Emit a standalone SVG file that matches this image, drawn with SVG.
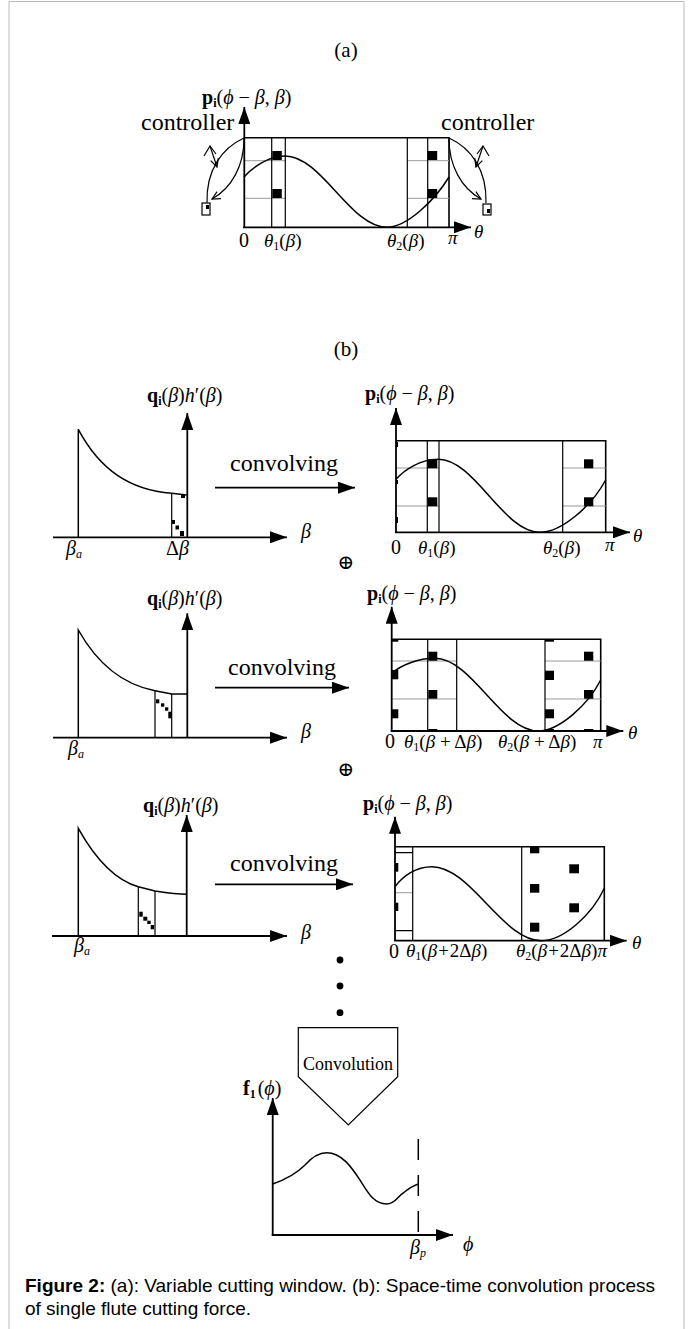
<svg xmlns="http://www.w3.org/2000/svg" width="693" height="1329" viewBox="0 0 693 1329">
<style>
.ln{stroke:#000;stroke-width:1.6;fill:none}
.thin{stroke:#000;stroke-width:1.2;fill:none}
.grid{stroke:#999;stroke-width:1;fill:none}
.cv{stroke:#000;stroke-width:1.5;fill:none}
.ax{stroke:#000;stroke-width:1.8;fill:none;marker-end:url(#ah)}
.sq{fill:#000}
.t{font-family:"Liberation Serif","DejaVu Serif",serif;font-size:20px;fill:#000}
.th{font-size:19px}
.big{font-size:24px}
.hd{font-size:21px}
.conv{font-size:18px}
.it{font-style:italic}
.b{font-weight:bold}
.sb{font-size:12px}
.cap{font-family:"Liberation Sans",Arial,sans-serif;font-size:19px;fill:#000}
</style>
<defs>
<marker id="ah" viewBox="0 0 17 12" refX="17" refY="6" markerWidth="17" markerHeight="12" orient="auto" markerUnits="userSpaceOnUse"><path d="M0,0L17,6L0,12z" fill="#000"/></marker>
<marker id="oh" viewBox="0 0 10 10" refX="9" refY="5" markerWidth="10" markerHeight="10" orient="auto" markerUnits="userSpaceOnUse"><path d="M1,1L9,5L1,9" fill="none" stroke="#000" stroke-width="1.2"/></marker>
</defs>
<rect width="693" height="1329" fill="#fff"/>
<path d="M9,1340V1.5H684V1340" fill="none" stroke="#bbb" stroke-width="1"/>

<!-- (a) -->
<g id="panel-a">
<text class="t hd" x="346" y="57" text-anchor="middle">(a)</text>
<text class="t" x="202" y="104"><tspan class="b">p</tspan><tspan class="b sb" dy="3">i</tspan><tspan dy="-3">(</tspan><tspan class="it">ϕ</tspan> − <tspan class="it">β</tspan>, <tspan class="it">β</tspan>)</text>
<path class="ln" d="M244,137.7H449V227.3"/>
<path class="grid" d="M244,160.7H285.3M244,198.3H285.3M407.3,160.7H449M407.3,198.3H449"/>
<path class="thin" d="M271.7,137.7V227.3M285.3,137.7V227.3M407.3,137.7V227.3M427.7,137.7V227.3"/>
<rect class="sq" x="272.3" y="151" width="9.5" height="9"/>
<rect class="sq" x="272.3" y="189" width="9.5" height="9"/>
<rect class="sq" x="427.7" y="151" width="9.5" height="9"/>
<rect class="sq" x="427.7" y="189" width="9.5" height="9"/>
<path class="cv" d="M244,177C252,168 268,156 285,156C321.7,156 350.3,227.3 387,227.3C407,227.3 435,200 449,177"/>
<line class="ax" x1="244.3" y1="227.3" x2="244.3" y2="107"/>
<line class="ax" x1="243" y1="227.3" x2="471" y2="227.3"/>
<text class="t" x="239" y="247">0</text>
<text class="t th" x="264" y="247"><tspan class="it">θ</tspan><tspan class="sb" dy="3">1</tspan><tspan dy="-3">(</tspan><tspan class="it">β</tspan>)</text>
<text class="t th" x="387" y="247"><tspan class="it">θ</tspan><tspan class="sb" dy="3">2</tspan><tspan dy="-3">(</tspan><tspan class="it">β</tspan>)</text>
<text class="t it th" x="448" y="244">π</text>
<text class="t it th" x="474" y="238">θ</text>
</g>

<g id="controller-left">
<text class="t big" x="141" y="130">controller</text>
<path class="thin" d="M244,138C222,148 206,170 207,203"/>
<path class="thin" d="M244,139C244,165 232,188 212,199" marker-end="url(#oh)"/>
<path class="thin" d="M210,146L217,167" marker-end="url(#oh)"/>
<path class="thin" d="M204,156L210,146L216,154"/>
<rect x="202" y="203" width="8" height="12" fill="#fff" stroke="#000" stroke-width="1.2"/>
<rect class="sq" x="206" y="205" width="3" height="4"/>
</g>
<g id="controller-right">
<text class="t big" x="441" y="130">controller</text>
<g transform="matrix(-1 0 0 1 693 0)">
<path class="thin" d="M244,138C222,148 206,170 207,203"/>
<path class="thin" d="M244,139C244,165 232,188 212,199" marker-end="url(#oh)"/>
<path class="thin" d="M210,146L217,167" marker-end="url(#oh)"/>
<path class="thin" d="M204,156L210,146L216,154"/>
<rect x="202" y="204" width="8" height="11" fill="#fff" stroke="#000" stroke-width="1.2"/>
<rect class="sq" x="203" y="209" width="3" height="4"/>
</g>
</g>

<text class="t hd" x="346" y="356" text-anchor="middle">(b)</text>

<!-- Row 1 -->
<g id="row1-left">
<text class="t" x="147" y="402"><tspan class="b">q</tspan><tspan class="b sb" dy="3">i</tspan><tspan dy="-3">(</tspan><tspan class="it">β</tspan>)<tspan class="it">h</tspan>′(<tspan class="it">β</tspan>)</text>
<path class="cv" d="M78.3,537.3V429.3C100,470 130,490 171.7,493.3L186.7,495"/>
<path class="thin" d="M171.7,493.3V537.3"/>
<rect class="sq" x="181" y="495" width="4" height="3"/>
<rect class="sq" x="172" y="520" width="3" height="4"/>
<rect class="sq" x="175.5" y="525.5" width="3.5" height="4"/>
<rect class="sq" x="180" y="531" width="4" height="5"/>
<line class="ax" x1="187.3" y1="537.3" x2="187.3" y2="413"/>
<line class="ax" x1="53" y1="537.3" x2="287" y2="537.3"/>
<text class="t it" x="301" y="538">β</text>
<text class="t" x="66" y="555"><tspan class="it">β</tspan><tspan class="it sb" dy="3">a</tspan></text>
<text class="t" x="166" y="555">Δ<tspan class="it">β</tspan></text>
</g>
<g id="row1-arrow">
<text class="t big" x="230" y="471">convolving</text>
<line class="ax" x1="215" y1="487.7" x2="355" y2="487.7"/>
</g>
<g id="row1-right">
<text class="t" x="365" y="400"><tspan class="b">p</tspan><tspan class="b sb" dy="3">i</tspan><tspan dy="-3">(</tspan><tspan class="it">ϕ</tspan> − <tspan class="it">β</tspan>, <tspan class="it">β</tspan>)</text>
<path class="ln" d="M396,440.7H605.7V532.3"/>
<path class="grid" d="M396,468H439M396,506H439M562.7,468H605.7M562.7,506H605.7"/>
<path class="thin" d="M427.3,440.7V532.3M439,440.7V532.3M562.7,440.7V532.3"/>
<rect class="sq" x="427.7" y="459.3" width="9.6" height="9"/>
<rect class="sq" x="427.7" y="497.3" width="9.6" height="9"/>
<rect class="sq" x="584" y="459.3" width="9.3" height="9"/>
<rect class="sq" x="584" y="497.3" width="9.3" height="9"/>
<rect class="sq" x="396" y="442" width="2" height="5"/>
<rect class="sq" x="396" y="480" width="2" height="4"/>
<rect class="sq" x="396" y="517" width="2" height="6"/>
<path class="cv" d="M396,479.3C404,470 420,459.3 438.3,459.3C475,459.3 503,532.3 540,532.3C561,532.3 591,507 605.7,480"/>
<line class="ax" x1="396" y1="532.3" x2="396" y2="408"/>
<line class="ax" x1="395" y1="532.3" x2="630" y2="532.3"/>
<text class="t" x="391" y="554">0</text>
<text class="t th" x="418" y="554"><tspan class="it">θ</tspan><tspan class="sb" dy="3">1</tspan><tspan dy="-3">(</tspan><tspan class="it">β</tspan>)</text>
<text class="t th" x="543" y="554"><tspan class="it">θ</tspan><tspan class="sb" dy="3">2</tspan><tspan dy="-3">(</tspan><tspan class="it">β</tspan>)</text>
<text class="t it th" x="605" y="551">π</text>
<text class="t it th" x="633" y="542">θ</text>
</g>
<text id="oplus1" class="t" x="346" y="569" text-anchor="middle">⊕</text>

<!-- Row 2 -->
<g id="row2-left">
<text class="t" x="147" y="605"><tspan class="b">q</tspan><tspan class="b sb" dy="3">i</tspan><tspan dy="-3">(</tspan><tspan class="it">β</tspan>)<tspan class="it">h</tspan>′(<tspan class="it">β</tspan>)</text>
<path class="cv" d="M78.3,737.7V630C98,665 125,685 155,690.7L171.7,694H187.3"/>
<path class="thin" d="M155,690.7V737.7M171.7,694V737.7"/>
<rect class="sq" x="156" y="699.3" width="3.3" height="4"/>
<rect class="sq" x="161" y="703.3" width="3.3" height="3.4"/>
<rect class="sq" x="165" y="707.3" width="3.3" height="3.4"/>
<rect class="sq" x="168.3" y="711.7" width="3.3" height="6.6"/>
<line class="ax" x1="187.3" y1="737.7" x2="187.3" y2="613.3"/>
<line class="ax" x1="53" y1="737.7" x2="287" y2="737.7"/>
<text class="t it" x="301" y="738">β</text>
<text class="t" x="68" y="755"><tspan class="it">β</tspan><tspan class="it sb" dy="3">a</tspan></text>
</g>
<g id="row2-arrow">
<text class="t big" x="228" y="675">convolving</text>
<line class="ax" x1="215" y1="687.7" x2="349" y2="687.7"/>
</g>
<g id="row2-right">
<text class="t" x="367" y="600"><tspan class="b">p</tspan><tspan class="b sb" dy="3">i</tspan><tspan dy="-3">(</tspan><tspan class="it">ϕ</tspan> − <tspan class="it">β</tspan>, <tspan class="it">β</tspan>)</text>
<path class="ln" d="M391.7,639.3H600.7V731"/>
<path class="grid" d="M391.7,661H456.7M391.7,699H456.7M545,661H600.7M545,699H600.7"/>
<path class="thin" d="M427.7,639.3V731M456.7,639.3V731M545,639.3V731"/>
<rect class="sq" x="428.3" y="651.7" width="9" height="9"/>
<rect class="sq" x="428.3" y="690" width="9" height="8.7"/>
<rect class="sq" x="428.3" y="729" width="9" height="2"/>
<rect class="sq" x="391.7" y="639.3" width="6.6" height="2.4"/>
<rect class="sq" x="391.7" y="670" width="6.6" height="9.3"/>
<rect class="sq" x="391.7" y="709.3" width="6.6" height="9"/>
<rect class="sq" x="545" y="639.3" width="9" height="2.4"/>
<rect class="sq" x="545" y="670.7" width="9" height="9.3"/>
<rect class="sq" x="545" y="709.3" width="9" height="9"/>
<rect class="sq" x="545" y="729" width="9" height="2"/>
<rect class="sq" x="584" y="651.7" width="9.3" height="9"/>
<rect class="sq" x="584" y="690" width="9.3" height="8.7"/>
<rect class="sq" x="584" y="729" width="9.3" height="2"/>
<path class="cv" d="M391.7,673.3C401,665 418,658.3 435,658.3C472,658.3 501,731 538.3,731C559,731 588,705 600.7,680"/>
<line class="ax" x1="391.7" y1="731" x2="391.7" y2="606.7"/>
<line class="ax" x1="390.7" y1="731" x2="623.3" y2="731"/>
<text class="t" x="385" y="748">0</text>
<text class="t th" x="404" y="748"><tspan class="it">θ</tspan><tspan class="sb" dy="3">1</tspan><tspan dy="-3">(</tspan><tspan class="it">β</tspan> + Δ<tspan class="it">β</tspan>)</text>
<text class="t th" x="498" y="748"><tspan class="it">θ</tspan><tspan class="sb" dy="3">2</tspan><tspan dy="-3">(</tspan><tspan class="it">β</tspan> + Δ<tspan class="it">β</tspan>)</text>
<text class="t it th" x="593" y="748">π</text>
<text class="t it th" x="628" y="739">θ</text>
</g>
<text id="oplus2" class="t" x="346" y="776" text-anchor="middle">⊕</text>

<!-- Row 3 -->
<g id="row3-left">
<text class="t" x="143" y="812"><tspan class="b">q</tspan><tspan class="b sb" dy="3">i</tspan><tspan dy="-3">(</tspan><tspan class="it">β</tspan>)<tspan class="it">h</tspan>′(<tspan class="it">β</tspan>)</text>
<path class="cv" d="M78.3,936V828.3C96,860 115,880 138.3,886.7L155,891C168,893 178,894.3 186.7,894.3"/>
<path class="thin" d="M138.3,886.7V936M155,891V936"/>
<rect class="sq" x="139.3" y="911.7" width="3.4" height="5"/>
<rect class="sq" x="143.3" y="916.7" width="4" height="4"/>
<rect class="sq" x="147.3" y="920.7" width="3.4" height="3.3"/>
<rect class="sq" x="150.7" y="925" width="3.3" height="4.3"/>
<line class="ax" x1="186.7" y1="936" x2="186.7" y2="815"/>
<line class="ax" x1="52" y1="936" x2="287" y2="936"/>
<text class="t it" x="301" y="939">β</text>
<text class="t" x="74" y="952"><tspan class="it">β</tspan><tspan class="it sb" dy="3">a</tspan></text>
</g>
<g id="row3-arrow">
<text class="t big" x="230" y="871">convolving</text>
<line class="ax" x1="215" y1="884.3" x2="353" y2="884.3"/>
</g>
<g id="row3-right">
<text class="t" x="363" y="810"><tspan class="b">p</tspan><tspan class="b sb" dy="3">i</tspan><tspan dy="-3">(</tspan><tspan class="it">ϕ</tspan> − <tspan class="it">β</tspan>, <tspan class="it">β</tspan>)</text>
<path class="ln" d="M395,846.7H604.3V940.7"/>
<path class="thin" d="M395,852.7H412.7M395,930.7H412.7"/>
<path class="grid" d="M395,892.7H412.7"/>
<path class="thin" d="M412.7,846.7V940.7M521.7,846.7V940.7"/>
<rect class="sq" x="395" y="863" width="3.3" height="8.7"/>
<rect class="sq" x="395" y="902.7" width="3.3" height="8.3"/>
<rect class="sq" x="530" y="846.7" width="9.3" height="6.6"/>
<rect class="sq" x="530" y="884" width="9.3" height="8.7"/>
<rect class="sq" x="530" y="922.7" width="9.3" height="9"/>
<rect class="sq" x="569.3" y="864.3" width="9.7" height="9"/>
<rect class="sq" x="569.3" y="903.3" width="9.7" height="9"/>
<path class="cv" d="M395,886.7C403,876 416,866.7 431.7,866.7C471,866.7 502,940.7 541.7,940.7C563,940.7 592,915 604.3,888.3"/>
<line class="ax" x1="395" y1="940.7" x2="395" y2="816.7"/>
<line class="ax" x1="394" y1="940.7" x2="626.7" y2="940.7"/>
<text class="t" x="389" y="958">0</text>
<text class="t th" x="406" y="957"><tspan class="it">θ</tspan><tspan class="sb" dy="3">1</tspan><tspan dy="-3">(</tspan><tspan class="it">β</tspan><tspan dx="1">+</tspan><tspan dx="1">2Δ</tspan><tspan class="it">β</tspan>)</text>
<text class="t th" x="516" y="957"><tspan class="it">θ</tspan><tspan class="sb" dy="3">2</tspan><tspan dy="-3">(</tspan><tspan class="it">β</tspan><tspan dx="1">+</tspan><tspan dx="1">2Δ</tspan><tspan class="it">β</tspan>)<tspan class="it">π</tspan></text>
<text class="t it th" x="632" y="949">θ</text>
</g>

<g id="dots">
<circle cx="340" cy="960" r="3.4"/>
<circle cx="340" cy="986" r="3.4"/>
<circle cx="340" cy="1012.7" r="3.4"/>
</g>

<g id="convolution">
<path d="M298.3,1027.7H397.7V1076.7L348.3,1125L298.3,1076.7Z" fill="#fff" stroke="#000" stroke-width="1.2"/>
<text class="t conv" x="348" y="1070" text-anchor="middle">Convolution</text>
</g>

<g id="result">
<text class="t" x="243" y="1095"><tspan class="b">f</tspan><tspan class="b sb" dy="3">1</tspan><tspan dy="-3" dx="2">(</tspan><tspan class="it">ϕ</tspan>)</text>
<path class="cv" d="M272.7,1184C290,1178 298,1172 305,1165C312,1157 318,1152.7 326.7,1152.7C342,1152.7 352,1168 360,1180C368,1193 374,1204 386.7,1204C395,1204 398,1196 403.3,1193C408,1189 412,1186 418.3,1184"/>
<path d="M418.3,1139V1233" fill="none" stroke="#000" stroke-width="1.5" stroke-dasharray="21,15"/>
<line class="ax" x1="272.7" y1="1235" x2="272.7" y2="1098"/>
<line class="ax" x1="271.7" y1="1235" x2="453" y2="1235"/>
<text class="t" x="410" y="1254"><tspan class="it">β</tspan><tspan class="it sb" dy="3">p</tspan></text>
<text class="t it" x="463" y="1251">ϕ</text>
</g>

<g id="caption">
<text class="cap" x="25" y="1292"><tspan font-weight="bold">Figure 2:</tspan> (a): Variable cutting window. (b): Space-time convolution process</text>
<text class="cap" x="25" y="1315">of single flute cutting force.</text>
</g>
</svg>
